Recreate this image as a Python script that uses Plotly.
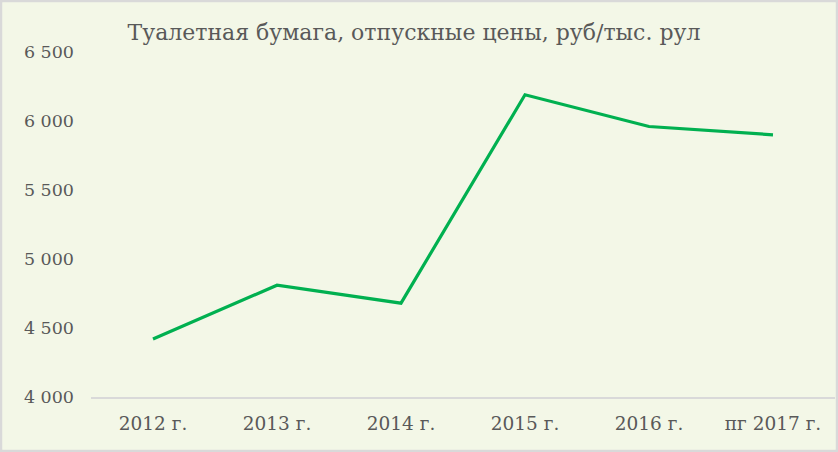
import plotly.graph_objects as go

# data
years = ["2012 г.", "2013 г.", "2014 г.", "2015 г.", "2016 г.", "пг 2017 г."]
prices = [4420, 4810, 4680, 6190, 5960, 5900]
y_ticks = [4000, 4500, 5000, 5500, 6000, 6500]
y_tick_labels = ["4 000", "4 500", "5 000", "5 500", "6 000", "6 500"]

W, H = 838, 452
ML, MR, MT, MB = 91, 3, 52, 55
pw = W - ML - MR
ph = H - MT - MB

bg = "#F3F7E7"
txt = "#595959"
serif = "DejaVu Serif, Liberation Serif, serif"

fig = go.Figure()
fig.add_trace(go.Scatter(
    x=years, y=prices, mode="lines",
    line=dict(color="#00B050", width=3.2),
    showlegend=False, hoverinfo="skip",
))

fig.update_layout(
    width=W, height=H,
    margin=dict(l=ML, r=MR, t=MT, b=MB),
    paper_bgcolor=bg, plot_bgcolor=bg,
    font=dict(family=serif, size=17, color=txt),
    title=dict(
        text="Туалетная бумага, отпускные цены, руб/тыс. рул",
        x=0.494, xanchor="center", y=1 - 32 / H, yanchor="middle",
        font=dict(family=serif, size=22, color=txt),
    ),
    xaxis=dict(
        range=[-0.5, 5.5],
        showgrid=False, zeroline=False, showline=True,
        linecolor="#D9D9D9", linewidth=1.5, ticks="",
        tickfont=dict(size=18.5, color=txt), ticklabelstandoff=9,
    ),
    yaxis=dict(
        range=[4000, 6500], tickvals=y_ticks, ticktext=y_tick_labels,
        showgrid=False, zeroline=False, showline=False, ticks="",
        tickfont=dict(size=17.5, color=txt), ticklabelstandoff=16,
    ),
)

# outer grey frame of the chart area
fig.add_shape(
    type="rect", xref="paper", yref="paper", layer="above",
    x0=(1 - ML) / pw, x1=(W - 1 - ML) / pw,
    y0=(1 - MB) / ph, y1=(MT + ph - 1) / ph,
    line=dict(color="#D9D9D9", width=2.5),
)

fig.write_html("out.html", config={"displayModeBar": False},
               post_script="document.body.style.margin='0';")
